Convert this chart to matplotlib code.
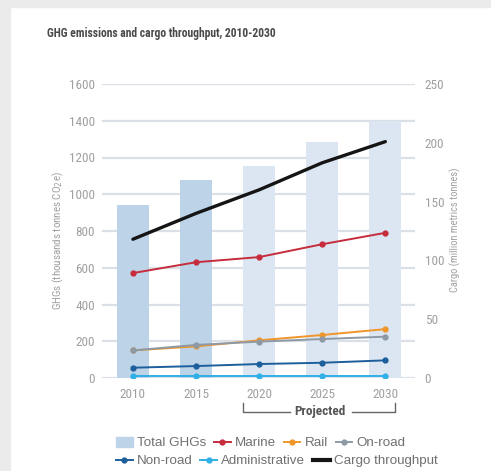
import matplotlib
matplotlib.use("Agg")
import matplotlib.pyplot as plt
from matplotlib.patches import Rectangle, Patch
from matplotlib.lines import Line2D
from matplotlib import font_manager as fm
import numpy as np

years = ["2010", "2015", "2020", "2025", "2030"]
total_ghg = [940, 1075, 1155, 1285, 1400]
marine = [571, 630, 658, 728, 790]
rail = [150, 172, 205, 234, 266]
onroad = [150, 180, 198, 212, 225]
nonroad = [56, 65, 76, 83, 96]
admin = [10, 10, 10, 10, 10]
cargo = [118, 140, 160, 183, 201]

names = {f.name for f in fm.fontManager.ttflist}
narrow_kw = None
for cand in ["Liberation Sans Narrow", "Roboto Condensed", "Open Sans Condensed", "Noto Sans Condensed",
             "DejaVu Sans Condensed", "Arial Narrow"]:
    if cand in names:
        narrow_kw = {"family": cand}
        break
if narrow_kw is None:
    cond = [f for f in fm.fontManager.ttflist
            if f.name == "DejaVu Sans" and str(f.stretch) in ("condensed", "semi-condensed", "400", "500")]
    if cond:
        narrow_kw = {"family": "DejaVu Sans", "stretch": "condensed"}
    else:
        narrow_kw = {"family": "Liberation Sans" if "Liberation Sans" in names else "DejaVu Sans"}
reg = "Liberation Sans" if "Liberation Sans" in names else "DejaVu Sans"
is_narrow = narrow_kw["family"] not in ("Liberation Sans", "DejaVu Sans") or "stretch" in narrow_kw
scale = 1.0 if is_narrow else 0.82

W, H = 491, 471
fig = plt.figure(figsize=(W / 100, H / 100), dpi=100, facecolor="white")
bg = "#ebebeb"
fig.patches.append(Rectangle((0, 0), 10 / W, 1, transform=fig.transFigure, color=bg, zorder=0))
fig.patches.append(Rectangle((0, 1 - 7 / H), 1, 7 / H, transform=fig.transFigure, color=bg, zorder=0))

ax = fig.add_axes([102 / W, (H - 378) / H, 313 / W, 294 / H])
ax2 = ax.twinx()
ax.set_zorder(1)
ax2.set_zorder(2)
ax.patch.set_visible(False)
ax2.patch.set_visible(False)

x = np.arange(len(years))
bar_cols = ["#bcd3e8", "#bcd3e8", "#dce6f2", "#dce6f2", "#dce6f2"]
ax.bar(x, total_ghg, width=0.51, color=bar_cols, zorder=2)

grid_c = "#dae0e6"
ax.set_ylim(0, 1600)
ax.set_yticks(range(0, 1601, 200))
ax.yaxis.grid(True, color=grid_c, lw=1.6, zorder=1)
ax.set_axisbelow(True)
ax.set_xlim(-0.49, 4.47)
ax.set_xticks(x)
ax.set_xticklabels(years)

series = [
    (marine, "#c62c3c", "Marine"),
    (rail, "#f0952a", "Rail"),
    (onroad, "#8d9aa5", "On-road"),
    (nonroad, "#1d5e9c", "Non-road"),
    (admin, "#2fb0e6", "Administrative"),
]
for vals, c, n in series:
    ax2.plot(x, np.array(vals) * 250 / 1600, color=c, lw=1.4, marker="o", ms=3.5, zorder=3)
ax2.plot(x, cargo, color="#151515", lw=2.4, zorder=4, solid_capstyle="round")
ax2.set_ylim(0, 250)
ax2.set_yticks(range(0, 251, 50))

tick_c = "#a0a0a0"
for a in (ax, ax2):
    for s in a.spines.values():
        s.set_visible(False)
    a.tick_params(length=0, colors=tick_c, labelsize=9.5 * scale)
    for lab in a.get_xticklabels() + a.get_yticklabels():
        lab.set_fontfamily(narrow_kw["family"])
        if "stretch" in narrow_kw:
            lab.set_fontstretch(narrow_kw["stretch"])
ax.tick_params(axis="y", pad=5)
ax.tick_params(axis="x", pad=7)
ax2.tick_params(axis="y", pad=7)

fig.text(58 / W, 1 - 241 / H, "GHGs (thousands tonnes CO$_2$e)", rotation=90, ha="center", va="center",
         color=tick_c, fontsize=7.9 * scale, **narrow_kw)
fig.text(455 / W, 1 - 230 / H, "Cargo (million metrics tonnes)", rotation=90, ha="center", va="center",
         color=tick_c, fontsize=7.5 * scale, **narrow_kw)

fig.text(47 / W, 1 - 33 / H, "GHG emissions and cargo throughput, 2010-2030", ha="left", va="center",
         fontsize=8.4 * scale, fontweight="bold", color="#4a4a4a", **narrow_kw)

# Projected bracket
yb_top, yb = 1 - 403 / H, 1 - 411.5 / H
xl, xr = 243.3 / W, 395 / W
bc = "#666666"
fig.lines.append(Line2D([xl, xl, 290 / W], [yb_top, yb, yb], transform=fig.transFigure, color=bc, lw=1))
fig.lines.append(Line2D([352 / W, xr, xr], [yb, yb, yb_top], transform=fig.transFigure, color=bc, lw=1))
fig.text(320 / W, yb, "Projected", ha="center", va="center", fontsize=9.5 * scale, fontweight="bold",
         color="#555555", **narrow_kw)

# Legends
def lh(c, lw=1.4, ms=3.5, marker="o"):
    return Line2D([], [], color=c, lw=lw, marker=marker, ms=ms)

row1 = [Patch(color="#bcd3e8"), lh("#c62c3c"), lh("#f0952a"), lh("#8d9aa5")]
row1l = ["Total GHGs", "Marine", "Rail", "On-road"]
row2 = [lh("#1d5e9c"), lh("#2fb0e6"), Line2D([], [], color="#151515", lw=3)]
row2l = ["Non-road", "Administrative", "Cargo throughput"]
kw = dict(frameon=False, handlelength=1.25, handletextpad=0.3, columnspacing=0.6, borderpad=0,
          borderaxespad=0, prop={"family": reg, "size": 9.6}, labelcolor="#707070", handleheight=0.8)
l1 = fig.legend(row1, row1l, ncol=4, loc="center left", bbox_to_anchor=(116 / W, 1 - 443 / H), **kw)
l2 = fig.legend(row2, row2l, ncol=3, loc="center left", bbox_to_anchor=(116 / W, 1 - 461 / H), **kw)

fig.savefig("out.png", dpi=100, facecolor="white")
